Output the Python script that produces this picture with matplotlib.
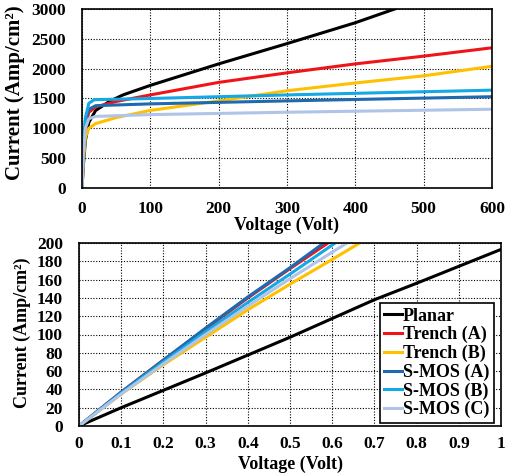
import numpy as np
import matplotlib.pyplot as plt
from matplotlib.ticker import FuncFormatter

plt.rcParams["font.family"] = ["Liberation Serif", "DejaVu Serif"]
plt.rcParams["font.weight"] = "bold"

labels = ["Planar", "Trench (A)", "Trench (B)", "S-MOS (A)", "S-MOS (B)", "S-MOS (C)"]
colors = ["#000000", "#F01418", "#FFC000", "#1F6AAE", "#14A8E4", "#AFC4E6"]

# top panel: full output curves (Voltage in V, Current in A/cm2)
v_hi = {
    "Planar": [0, 2, 5, 10, 20, 40, 60, 100, 200, 300, 400, 460],
    "Trench (A)": [0, 2, 5, 10, 20, 50, 100, 200, 300, 400, 500, 600],
    "Trench (B)": [0, 2, 5, 10, 20, 50, 100, 200, 300, 400, 500, 600],
    "S-MOS (A)": [0, 2, 5, 10, 20, 100, 300, 600],
    "S-MOS (B)": [0, 2, 5, 10, 18, 100, 300, 600],
    "S-MOS (C)": [0, 2, 5, 10, 20, 100, 300, 600],
}
i_hi = {
    "Planar": [0, 380, 800, 1100, 1300, 1450, 1560, 1720, 2080, 2420, 2770, 3010],
    "Trench (A)": [0, 550, 1050, 1270, 1360, 1450, 1560, 1770, 1930, 2080, 2210, 2350],
    "Trench (B)": [0, 450, 850, 1000, 1080, 1180, 1300, 1460, 1630, 1760, 1880, 2040],
    "S-MOS (A)": [0, 600, 1150, 1320, 1380, 1410, 1460, 1530],
    "S-MOS (B)": [0, 620, 1180, 1420, 1480, 1500, 1560, 1640],
    "S-MOS (C)": [0, 550, 1000, 1160, 1200, 1230, 1270, 1320],
}

# bottom panel: low-voltage zoom
v_lo = {
    "Planar": [0, 0.1, 0.3, 0.5, 0.7, 0.8, 1.0],
    "Trench (A)": [0, 0.1, 0.2, 0.3, 0.4, 0.5, 0.59],
    "Trench (B)": [0, 0.1, 0.2, 0.3, 0.4, 0.5, 0.6, 0.665],
    "S-MOS (A)": [0, 0.1, 0.2, 0.3, 0.4, 0.5, 0.58],
    "S-MOS (B)": [0, 0.1, 0.2, 0.3, 0.4, 0.5, 0.607],
    "S-MOS (C)": [0, 0.1, 0.2, 0.3, 0.4, 0.5, 0.6, 0.635],
}
i_lo = {
    "Planar": [0, 20, 58, 97, 138, 156, 193],
    "Trench (A)": [0, 37, 72, 106, 140, 172, 200],
    "Trench (B)": [0, 35, 67, 97, 127, 155, 182, 200],
    "S-MOS (A)": [0, 37, 72, 107, 141, 173, 200],
    "S-MOS (B)": [0, 36, 70, 103, 135, 166, 200],
    "S-MOS (C)": [0, 35, 68, 100, 131, 161, 190, 200],
}

fig = plt.figure(figsize=(5.10, 4.76), dpi=100)
ax1 = fig.add_axes([82 / 510, 1 - 188 / 476, 410 / 510, 179 / 476])
ax2 = fig.add_axes([79 / 510, 1 - 426 / 476, 422 / 510, 183 / 476])

for name, c in zip(labels, colors):
    ax1.plot(v_hi[name], i_hi[name], color=c, lw=2.2, label=name)
    ax2.plot(v_lo[name], i_lo[name], color=c, lw=2.2, label=name)

ax1.set_xlim(0, 600)
ax1.set_ylim(0, 3000)
ax1.set_xticks(np.arange(0, 601, 100))
ax1.set_yticks(np.arange(0, 3001, 500))

ax2.set_xlim(0, 1)
ax2.set_ylim(0, 200)
ax2.set_xticks(np.arange(0, 1.01, 0.1))
ax2.set_yticks(np.arange(0, 201, 20))
ax2.xaxis.set_major_formatter(FuncFormatter(lambda x, p: "%g" % round(x, 1)))

for ax in (ax1, ax2):
    ax.grid(True, color="black", ls=(0, (1, 1.5)), lw=0.8)
    ax.tick_params(length=0, labelsize=12.5)
    ax.tick_params(axis="y", pad=11.5)
    for s in ax.spines.values():
        s.set_linewidth(1.2)
    ax.set_xlabel("Voltage (Volt)", fontsize=13, fontweight="bold")

ax1.tick_params(axis="x", pad=9.5)
ax2.tick_params(axis="x", pad=7)
ax1.xaxis.set_label_coords(0.5, -0.162)
ax2.xaxis.set_label_coords(0.5, -0.162)

ax1.set_ylabel("Current (Amp/cm²)", fontsize=15, fontweight="bold")
ax2.set_ylabel("Current (Amp/cm²)", fontsize=13, fontweight="bold")
ax1.yaxis.set_label_coords(-0.163, 0.535)
ax2.yaxis.set_label_coords(-0.134, 0.508)
ax1.yaxis.label.set_va("center")
ax2.yaxis.label.set_va("center")

leg = ax2.legend(loc="lower right", bbox_to_anchor=(0.9834, 0.0164), borderaxespad=0,
                 fontsize=13, handlelength=1.0, handletextpad=0.05,
                 borderpad=0.25, labelspacing=0.08, fancybox=False, framealpha=1,
                 edgecolor="black")
leg.get_frame().set_linewidth(1.2)

fig.savefig("out.png", dpi=100)
